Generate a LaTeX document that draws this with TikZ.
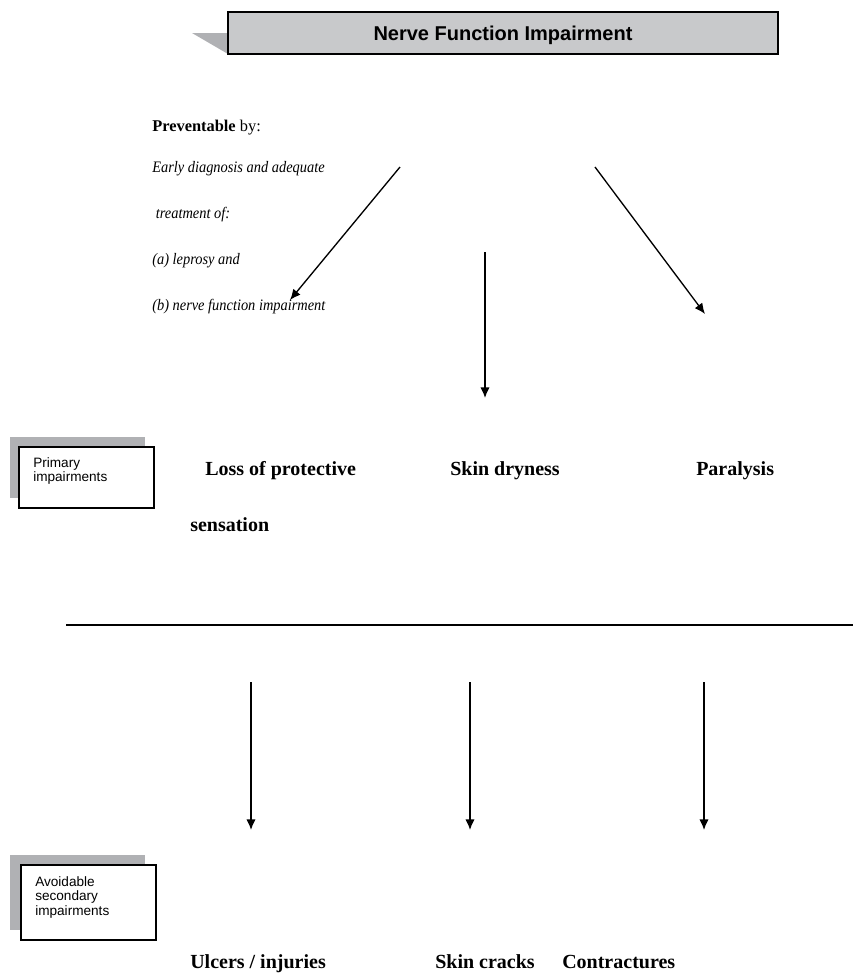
\documentclass[tikz,border=0pt]{standalone}
\usepackage{fontspec}
\usetikzlibrary{arrows.meta}
\setmainfont{Liberation Serif}
\newfontfamily\arial{Liberation Sans}
\definecolor{boxgray}{RGB}{200,201,203}
\definecolor{shadegray}{RGB}{176,177,180}
% shadow top, shadow height, box left, box height
\newcommand{\tagbox}[4]{\fill[shadegray] (10,#1) rectangle (145,#1+#2);
\draw[fill=white, line width=1pt] (#3,#1+10) rectangle (#3+135,#1+10+#4);}
\newcommand{\narrow}[1]{\scalebox{0.9}[1]{#1}}

\begin{document}
\begin{tikzpicture}[x=0.75pt, y=-0.75pt, every node/.style={inner sep=0pt},
  lab/.style={anchor=base west, font=\fontsize{15}{18}\selectfont\bfseries},
  note/.style={anchor=base west, font=\fontsize{12}{14}\selectfont\itshape},
  small/.style={anchor=north west, align=left, font=\arial\fontsize{10.2}{11}\selectfont},
  arr/.style={-{Latex[length=8pt, width=7pt]}, line width=1pt}]
\useasboundingbox (0,0) rectangle (853,975);
% title
\fill[shadegray] (192,33) -- (228,33) -- (228,54) -- cycle;
\draw[fill=boxgray, line width=1pt] (228,12) rectangle (778,54);
\node[anchor=base, font=\arial\fontsize{15}{18}\selectfont\bfseries] (nfi) at (503,40) {Nerve Function Impairment};
% preventable
\node[anchor=base west, font=\fontsize{12.3}{14}\selectfont] (prev) at (152,131) {\textbf{Preventable} by:};
\node[note] (early) at (152,172) {\narrow{Early diagnosis and adequate}};
\node[note] (treat) at (152,218) {\narrow{\ treatment of:}};
\node[note] (lep) at (152,264) {\narrow{(a) leprosy and}};
\node[note] (nerve) at (152,310) {\narrow{(b) nerve function impairment}};
\coordinate (a1s) at (400,167); \coordinate (a1e) at (290,300);
\coordinate (a2s) at (485,252); \coordinate (a2e) at (485,398);
\coordinate (a3s) at (595,167); \coordinate (a3e) at (705,314);
\draw[arr] (a1s) -- (a1e);
\draw[arr] (a2s) -- (a2e);
\draw[arr] (a3s) -- (a3e);
% primary
\tagbox{437}{61}{19}{61}
\node[small] (prim) at (33,457) {Primary\\impairments};
\node[lab] (loss) at (205,475) {Loss of protective};
\node[lab] (sens) at (190,531) {sensation};
\node[lab] (dry) at (450,475) {Skin dryness};
\node[lab] (para) at (696,475) {Paralysis};
\draw[line width=2pt] (66,625) -- (853,625);
% secondary
\coordinate (b1s) at (251,682); \coordinate (b1e) at (251,830);
\coordinate (b2s) at (470,682); \coordinate (b2e) at (470,830);
\coordinate (b3s) at (704,682); \coordinate (b3e) at (704,830);
\draw[arr] (b1s) -- (b1e);
\draw[arr] (b2s) -- (b2e);
\draw[arr] (b3s) -- (b3e);
\tagbox{855}{75}{21}{75}
\node[small] (avoid) at (35,876) {Avoidable\\secondary\\impairments};
\node[lab] (ulc) at (190,968) {Ulcers / injuries};
\node[lab] (crack) at (435,968) {Skin cracks};
\node[lab] (contr) at (562,968) {Contractures};
\end{tikzpicture}
\end{document}
